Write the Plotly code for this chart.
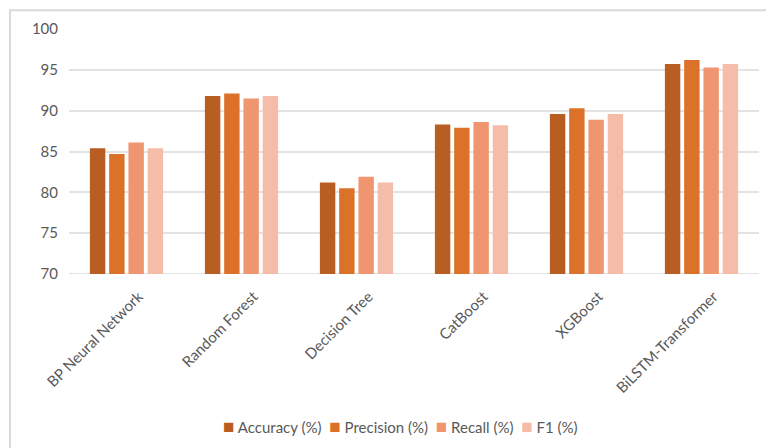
import plotly.graph_objects as go

models = ["BP Neural Network", "Random Forest", "Decision Tree", "CatBoost", "XGBoost", "BiLSTM-Transformer"]
accuracy = [85.4, 91.8, 81.2, 88.3, 89.6, 95.7]
precision = [84.7, 92.1, 80.5, 87.9, 90.3, 96.2]
recall = [86.1, 91.5, 81.9, 88.6, 88.9, 95.3]
f1 = [85.4, 91.8, 81.2, 88.2, 89.6, 95.7]

series_names = ["Accuracy (%)", "Precision (%)", "Recall (%)", "F1 (%)"]
series_values = [accuracy, precision, recall, f1]
series_colors = ["#B95E22", "#DC7229", "#EF9670", "#F5BCA9"]

font_family = "Lato, 'Open Sans', sans-serif"
text_color = "#595959"

fig = go.Figure()
for name, vals, col in zip(series_names, series_values, series_colors):
    fig.add_trace(go.Bar(
        x=models, y=vals, name=name,
        marker=dict(color=col, line=dict(width=0)),
        hoverinfo="skip",
    ))

# compact legend row: coloured square followed by its series name
legend_text = "  ".join(
    f"<span style='color:{col};font-size:19px'>■</span> {name}"
    for name, col in zip(series_names, series_colors)
)

fig.update_layout(
    width=766, height=448,
    margin=dict(l=69, r=7, t=29, b=173.5),
    paper_bgcolor="white", plot_bgcolor="white",
    barmode="group", bargap=0.33, bargroupgap=0.2,
    font=dict(family=font_family, size=14, color=text_color),
    showlegend=False,
    xaxis=dict(
        tickangle=-45, showgrid=False, showline=False, ticks="",
        tickfont=dict(size=15, color=text_color),
        ticklabelstandoff=10, ticklabelshift=12,
    ),
    yaxis=dict(
        range=[70, 100], tick0=70, dtick=5,
        showgrid=True, gridcolor="#E3E3E3", gridwidth=1.5,
        zeroline=False, showline=False, ticks="",
        tickfont=dict(size=15, color=text_color),
        ticklabelstandoff=10,
    ),
    annotations=[
        dict(text=legend_text, xref="paper", yref="paper",
             x=0.48, y=-0.617, xanchor="center", yanchor="middle",
             showarrow=False, font=dict(size=15, color=text_color)),
    ],
    shapes=[
        dict(type="rect", xref="paper", yref="paper",
             x0=-0.0855, x1=1.03, y0=-0.75, y1=1.077,
             line=dict(color="#D9D9D9", width=2), fillcolor="rgba(0,0,0,0)",
             layer="below"),
        dict(type="line", xref="paper", yref="y", x0=0, x1=1, y0=70, y1=70,
             line=dict(color="#D9D9D9", width=1.5), layer="below"),
    ],
)

fig.write_html("out.html")
